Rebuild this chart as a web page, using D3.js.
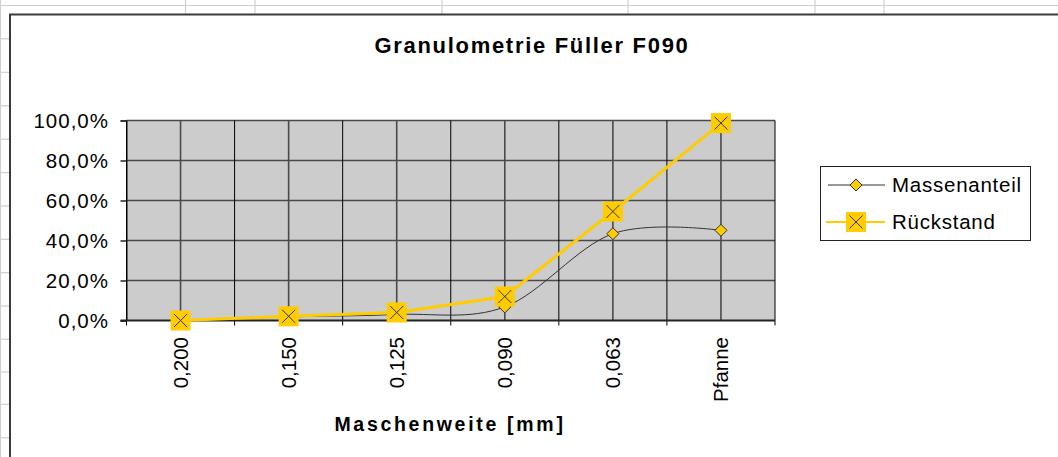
<!DOCTYPE html>
<html><head><meta charset="utf-8">
<script src="https://cdn.jsdelivr.net/npm/d3@7"></script>
<style>body{margin:0;background:#fff} svg{display:block} text{font-family:"Liberation Sans",Arial,sans-serif;fill:#000}</style>
</head><body><svg id="c" width="1058" height="457"></svg>
<script>
const categories = ["0,200","0,150","0,125","0,090","0,063","Pfanne"];
const massenanteil = [0.0, 1.8, 3.0, 6.8, 43.4, 45.1];
const rueckstand = [0.0, 2.1, 4.0, 12.0, 54.5, 98.7];
const yTicks = [0, 20, 40, 60, 80, 100];
const seriesNames = ["Massenanteil", "Rückstand"];
const titleText = "Granulometrie Füller F090";
const xTitleText = "Maschenweite [mm]";

// spreadsheet background (decoration)
const sheetRows = [5.5, 38.8, 72.3, 105.8, 139.2, 172.6, 206, 239.3, 272.7, 306, 339.3, 372, 404.3, 437.7];
const sheetCols = [0.5, 185.5, 255, 442, 628, 815, 884];

const svg = d3.select("#c");
const W = 1058, H = 457;
const chartL = 10, chartT = 14.5;

const bg = svg.append("g");
bg.selectAll("line.r").data(sheetRows).join("line")
  .attr("x1", 0).attr("x2", (d, i) => i === 0 ? W : chartL)
  .attr("y1", d => d).attr("y2", d => d)
  .attr("stroke", "#cfcfcf").attr("stroke-width", 1.2);
bg.selectAll("line.c").data(sheetCols).join("line")
  .attr("x1", d => d).attr("x2", d => d)
  .attr("y1", 0).attr("y2", (d, i) => i === 0 ? H : chartT)
  .attr("stroke", "#cfcfcf").attr("stroke-width", 1.2);

// chart area
svg.append("rect").attr("x", chartL).attr("y", chartT).attr("width", W).attr("height", H)
  .attr("fill", "#fff");
svg.append("path").attr("d", `M${chartL},${H} L${chartL},${chartT} L${W},${chartT}`)
  .attr("fill", "none").attr("stroke", "#3a3a3a").attr("stroke-width", 2);

// scales
const x = d3.scaleBand().domain(categories).range([126.5, 775]).padding(0);
const bw = x.bandwidth();
const cx = c => x(c) + bw / 2;
const y = d3.scaleLinear().domain([0, 100]).range([320.5, 120.5]);

// plot area
svg.append("rect").attr("x", x.range()[0]).attr("y", y(100))
  .attr("width", x.range()[1] - x.range()[0]).attr("height", y(0) - y(100))
  .attr("fill", "#cccccc");

// horizontal gridlines
svg.append("g").selectAll("line").data(yTicks.filter(d => d > 0)).join("line")
  .attr("x1", x.range()[0]).attr("x2", x.range()[1])
  .attr("y1", d => y(d)).attr("y2", d => y(d))
  .attr("stroke", "#4a4a4a").attr("stroke-width", 1.6);
// vertical gridlines at category centers
svg.append("g").selectAll("line").data(categories).join("line")
  .attr("x1", d => cx(d)).attr("x2", d => cx(d))
  .attr("y1", y(100)).attr("y2", y(0))
  .attr("stroke", "#4a4a4a").attr("stroke-width", 1.6);
// vertical gridlines at category boundaries
const bounds = categories.map(c => x(c)).concat([x.range()[1]]);
svg.append("g").selectAll("line").data(bounds).join("line")
  .attr("x1", d => d).attr("x2", d => d)
  .attr("y1", y(100)).attr("y2", y(0) + 5)
  .attr("stroke", "#000").attr("stroke-width", 1);

// y axis
const yAxis = d3.axisLeft(y).tickValues(yTicks).tickSize(6).tickPadding(12)
  .tickFormat(d => d3.format(".1f")(d).replace(".", ",") + "%");
const ya = svg.append("g").attr("transform", `translate(${x.range()[0]},0)`).call(yAxis);
ya.select(".domain").attr("stroke", "#000").attr("stroke-width", 1);
ya.selectAll(".tick line").attr("stroke", "#222").attr("stroke-width", 1.5);
ya.selectAll("text").style("font-size", "20.5px").style("letter-spacing", "1px")
  .attr("fill", "#000").attr("dy", "0.36em").attr("x", -17.5);

// x axis line
svg.append("line").attr("x1", x.range()[0] - 6).attr("x2", x.range()[1])
  .attr("y1", y(0)).attr("y2", y(0)).attr("stroke", "#222").attr("stroke-width", 1.8);

// x labels
svg.append("g").selectAll("text").data(categories).join("text")
  .attr("transform", d => `translate(${cx(d)},337) rotate(-90)`)
  .attr("text-anchor", "end").attr("dy", "0.36em")
  .style("font-size", "20.5px").text(d => d);

// Massenanteil series
const lineM = d3.line().x((d, i) => cx(categories[i])).y(d => y(d)).curve(d3.curveCardinal.tension(0));
svg.append("path").datum(massenanteil).attr("d", lineM)
  .attr("fill", "none").attr("stroke", "#333").attr("stroke-width", 1);
const diamond = s => `M0,${-s} L${s},0 L0,${s} L${-s},0 Z`;
svg.append("g").selectAll("path").data(massenanteil).join("path")
  .attr("transform", (d, i) => `translate(${cx(categories[i])},${y(d)})`)
  .attr("d", diamond(6)).attr("fill", "#ffcc00").attr("stroke", "#333").attr("stroke-width", 1);

// Rückstand series
const lineR = d3.line().x((d, i) => cx(categories[i])).y(d => y(d));
svg.append("path").datum(rueckstand).attr("d", lineR)
  .attr("fill", "none").attr("stroke", "#ffcc00").attr("stroke-width", 3);
function squareX(g, s) {
  g.append("rect").attr("x", -s).attr("y", -s).attr("width", 2 * s).attr("height", 2 * s)
    .attr("fill", "#ffcc00");
  g.append("path").attr("d", `M-6.5,-6.5 L6.5,6.5 M6.5,-6.5 L-6.5,6.5`)
    .attr("stroke", "#333").attr("stroke-width", 1);
}
svg.append("g").selectAll("g").data(rueckstand).join("g")
  .attr("transform", (d, i) => `translate(${cx(categories[i])},${y(d)})`)
  .each(function () { squareX(d3.select(this), 10); });

// legend
const lg = svg.append("g");
lg.append("rect").attr("x", 820.5).attr("y", 166.5).attr("width", 210).attr("height", 74)
  .attr("fill", "#fff").attr("stroke", "#222").attr("stroke-width", 1);
const rowsY = [185, 222];
lg.append("line").attr("x1", 828).attr("x2", 885).attr("y1", rowsY[0]).attr("y2", rowsY[0])
  .attr("stroke", "#333").attr("stroke-width", 1);
lg.append("path").attr("transform", `translate(856,${rowsY[0]})`).attr("d", diamond(6))
  .attr("fill", "#ffcc00").attr("stroke", "#333").attr("stroke-width", 1);
lg.append("line").attr("x1", 826).attr("x2", 885).attr("y1", rowsY[1]).attr("y2", rowsY[1])
  .attr("stroke", "#ffcc00").attr("stroke-width", 2);
squareX(lg.append("g").attr("transform", `translate(856,${rowsY[1]})`), 10);
lg.selectAll("text").data(seriesNames).join("text")
  .attr("x", 892).attr("y", (d, i) => rowsY[i]).attr("dy", "0.36em")
  .style("font-size", "20.5px").style("letter-spacing", "0.75px").text(d => d);

// titles
svg.append("text").attr("x", 532).attr("y", 53).attr("text-anchor", "middle")
  .style("font-size", "22px").style("font-weight", "bold").style("letter-spacing", "1.7px")
  .text(titleText);
svg.append("text").attr("x", 450).attr("y", 431).attr("text-anchor", "middle")
  .style("font-size", "19.5px").style("font-weight", "bold").style("letter-spacing", "2.7px")
  .text(xTitleText);
</script></body></html>
